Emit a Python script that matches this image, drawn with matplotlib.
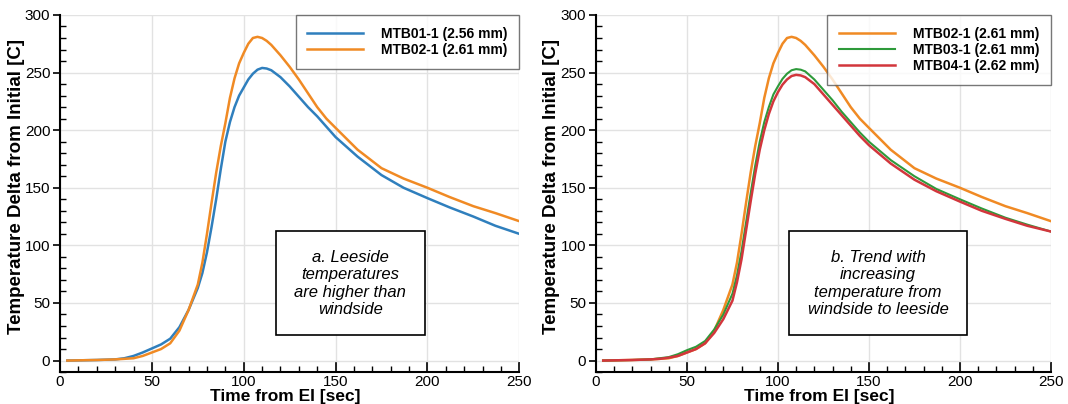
import matplotlib.pyplot as plt
from matplotlib.ticker import MultipleLocator

plt.rcParams['font.family'] = ['Liberation Sans', 'DejaVu Sans']

# time from EI [sec]
t = [4, 20, 30, 35, 40, 45, 50, 55, 60, 65, 70, 75, 77.5, 80, 82.5, 85, 87.5, 90, 92.5, 95, 97.5,
     100, 102.5, 105, 107.5, 110, 112.5, 115, 120, 125, 130, 135, 140, 145, 150,
     162, 175, 187, 200, 212, 225, 237, 250]

mtb01 = [0, 0.5, 1, 2, 4, 7, 10.5, 14, 19, 29, 44, 63, 76, 94, 116, 140, 166, 190, 207, 220, 230,
         237, 244, 249, 252.5, 254, 253.5, 252, 246, 238, 229, 220, 212, 203, 194,
         177, 161, 150, 141, 133, 125, 117, 110]
mtb02 = [0, 0.5, 1, 1.5, 2, 4, 7, 10, 15, 26, 44, 66, 85, 110, 137, 163, 186, 206, 228, 245, 258,
         267, 275, 280, 281, 280, 277.5, 274, 265, 255, 244, 232, 220, 210, 202,
         183, 167, 158, 150, 142, 134, 128, 121]
mtb03 = [0, 0.5, 1, 2, 3, 5.5, 9, 12, 17, 27, 40, 58, 74, 95, 120, 145, 169, 190, 207, 220, 231,
         238, 244.5, 249, 252, 253, 252.5, 251, 244, 235, 226, 216, 207, 198, 190,
         174, 160, 149, 140, 132, 124, 118, 112]
mtb04 = [0, 0.5, 1, 1.5, 2.5, 4, 7, 10, 15, 24, 36, 52, 68, 88, 113, 138, 162, 183, 200, 214, 225,
         233, 239.5, 244, 247, 248, 247.5, 246, 240, 231, 222, 213, 204, 195, 187,
         171, 157, 147, 138, 130, 123, 117, 112]

blue = '#2f7fbd'
orange = '#f08a24'
green = '#2e9a3a'
red = '#d2363c'

fig = plt.figure(figsize=(10.68, 4.04), dpi=100)
ax1 = fig.add_axes([0.0562, 0.079, 0.430, 0.884])
ax2 = fig.add_axes([0.558, 0.079, 0.426, 0.884])

ax1.plot(t, mtb01, color=blue, lw=1.8, label='MTB01-1 (2.56 mm)')
ax1.plot(t, mtb02, color=orange, lw=1.8, label='MTB02-1 (2.61 mm)')

ax2.plot(t, mtb02, color=orange, lw=1.8, label='MTB02-1 (2.61 mm)')
ax2.plot(t, mtb03, color=green, lw=1.5, label='MTB03-1 (2.61 mm)')
ax2.plot(t, mtb04, color=red, lw=1.8, label='MTB04-1 (2.62 mm)')

notes = ['a. Leeside\ntemperatures\nare higher than\nwindside',
         'b. Trend with\nincreasing\ntemperature from\nwindside to leeside']
note_x = [158, 155]
ylab_x = [-0.076, -0.08]

for ax, note, nx, lx in zip([ax1, ax2], notes, note_x, ylab_x):
    ax.set_xlim(0, 250)
    ax.set_ylim(-10, 300)
    ax.xaxis.set_major_locator(MultipleLocator(50))
    ax.xaxis.set_minor_locator(MultipleLocator(10))
    ax.yaxis.set_major_locator(MultipleLocator(50))
    ax.yaxis.set_minor_locator(MultipleLocator(10))
    ax.grid(True, which='major', color='#e2e2e2', lw=1)
    ax.set_axisbelow(True)
    for s in ['top', 'right']:
        ax.spines[s].set_visible(False)
    ax.spines['left'].set_linewidth(1.5)
    ax.spines['bottom'].set_linewidth(1.5)
    ax.tick_params(axis='x', which='major', direction='in', length=7, width=1.2, labelsize=11, pad=2)
    ax.tick_params(axis='x', which='minor', direction='in', length=4, width=1)
    ax.tick_params(axis='y', which='major', direction='out', length=5, width=1.2, labelsize=11, pad=2)
    ax.tick_params(axis='y', which='minor', direction='in', length=4, width=1)
    ax.set_xlabel('Time from EI [sec]', fontsize=12.5, fontweight='bold', va='bottom')
    ax.xaxis.set_label_coords(0.49, -0.088)
    ax.set_ylabel('Temperature Delta from Initial [C]', fontsize=13.5, fontweight='bold')
    ax.yaxis.set_label_coords(lx, 0.52)
    leg = ax.legend(loc='upper right', bbox_to_anchor=(1.0, 1.0), borderaxespad=0,
                    prop={'weight': 'bold', 'size': 10}, handlelength=4, fancybox=False,
                    frameon=True, labelspacing=0.15, borderpad=0.85, handletextpad=1.3)
    leg.get_frame().set_edgecolor('#555555')
    leg.get_frame().set_linewidth(1)
    ax.text(nx, 67, note, ha='center', va='center', fontsize=12, style='italic',
            linespacing=1.2,
            bbox=dict(boxstyle='square,pad=1.1', fc='white', ec='black', lw=1.2))

fig.savefig('out.png', dpi=100)
